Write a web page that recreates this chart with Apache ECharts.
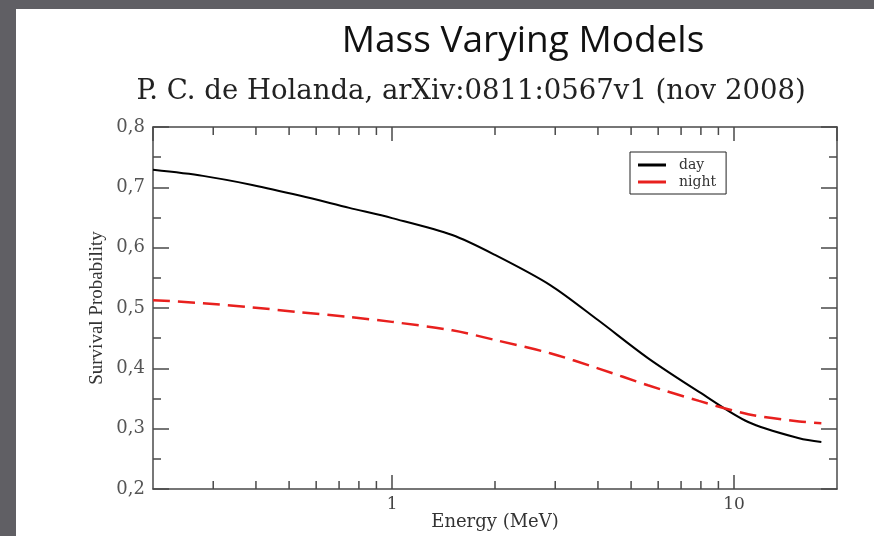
<!DOCTYPE html>
<html>
<head>
<meta charset="utf-8">
<script src="https://cdn.jsdelivr.net/npm/echarts@6/dist/echarts.min.js"></script>
<style>
  html, body { margin: 0; padding: 0; background: #605f64; }
  #sheet { position: absolute; left: 16px; top: 9px; width: 858px; height: 527px; background: #ffffff; }
  #chart { position: absolute; left: 0; top: 0; width: 874px; height: 536px; }
</style>
</head>
<body>
<div id="sheet"></div>
<div id="chart"></div>
<script>
// Energy grid (MeV) and survival probabilities
const energy = [0.2, 0.28, 0.39, 0.54, 0.75, 1.0, 1.5, 2.0, 2.9, 4.0, 5.6, 7.9, 11, 15.5, 18];
const dayP   = [0.729, 0.719, 0.704, 0.686, 0.666, 0.649, 0.621, 0.588, 0.538, 0.480, 0.417, 0.361, 0.311, 0.284, 0.278];
const nightP = [0.513, 0.508, 0.501, 0.493, 0.485, 0.477, 0.463, 0.447, 0.425, 0.400, 0.372, 0.346, 0.324, 0.312, 0.309];
// minor ticks on the log energy axis
const minorTicks = [0.3, 0.4, 0.5, 0.6, 0.7, 0.8, 0.9, 2, 3, 4, 5, 6, 7, 8, 9];
const yTickLabels = ['0,2', '0,3', '0,4', '0,5', '0,6', '0,7', '0,8'];

const times = '"Liberation Serif", serif';
const wideSerif = '"DejaVu Serif", "Liberation Serif", serif';
const axisCol = '#4a4a4a';

const chart = echarts.init(document.getElementById('chart'));
chart.setOption({
  backgroundColor: 'transparent',
  animation: false,
  title: [
    { text: 'Mass Varying Models', left: 518, top: 18, textAlign: 'center',
      textStyle: { fontFamily: '"Open Sans", Lato, sans-serif', fontSize: 37, fontWeight: 'normal', color: '#111' } },
    { text: 'P. C. de Holanda, arXiv:0811:0567v1 (nov 2008)', left: 466, top: 73, textAlign: 'center',
      textStyle: { fontFamily: wideSerif, fontSize: 27.5, fontWeight: 'normal', color: '#222' } }
  ],
  legend: {
    orient: 'vertical', left: 630, top: 152,
    borderColor: '#222', borderWidth: 1, padding: [6, 10, 5, 8],
    icon: 'rect', itemWidth: 28, itemHeight: 3, itemGap: 3,
    textStyle: { fontFamily: wideSerif, fontSize: 14, color: '#333', padding: [0, 0, 0, 8] },
    data: ['day', 'night']
  },
  grid: { left: 153, top: 127, right: 37, bottom: 47, outerBoundsMode: 'none' },
  xAxis: [
    { type: 'log', logBase: 10, min: 0.2, max: 20, position: 'bottom',
      name: 'Energy (MeV)', nameLocation: 'middle', nameGap: 24, nameMoveOverlap: false,
      nameTextStyle: { fontFamily: wideSerif, fontSize: 18, color: '#333' },
      axisLine: { lineStyle: { color: axisCol, width: 1.5 } },
      axisTick: { inside: true, length: 14, lineStyle: { color: axisCol, width: 1.5 } },
      axisLabel: { fontFamily: wideSerif, fontSize: 17, color: '#444', margin: 7,
        showMinLabel: false, showMaxLabel: false,
        formatter: v => (Math.abs(v - 1) < 1e-9 ? '1' : Math.abs(v - 10) < 1e-9 ? '10' : '') },
      splitLine: { show: false } },
    { type: 'log', logBase: 10, min: 0.2, max: 20, position: 'top',
      axisLine: { lineStyle: { color: axisCol, width: 1.5 } },
      axisTick: { inside: true, length: 14, lineStyle: { color: axisCol, width: 1.5 } },
      axisLabel: { show: false }, splitLine: { show: false } }
  ],
  yAxis: [
    { type: 'value', min: 0.2, max: 0.8, interval: 0.1,
      name: 'Survival Probability', nameLocation: 'middle', nameGap: 46, nameMoveOverlap: false,
      nameTextStyle: { fontFamily: times, fontSize: 19, color: '#333' },
      axisLine: { show: true, lineStyle: { color: axisCol, width: 1.5 } },
      axisTick: { inside: true, length: 16, lineStyle: { color: axisCol, width: 1.5 } },
      minorTick: { show: true, splitNumber: 2, length: 8, lineStyle: { color: axisCol, width: 1.5 } },
      axisLabel: { fontFamily: wideSerif, fontSize: 18, color: '#555', margin: 8,
        formatter: v => yTickLabels[Math.round((v - 0.2) * 10)] },
      splitLine: { show: false } },
    { type: 'value', min: 0.2, max: 0.8, interval: 0.1, position: 'right',
      axisLine: { show: true, lineStyle: { color: axisCol, width: 1.5 } },
      axisTick: { inside: true, length: 16, lineStyle: { color: axisCol, width: 1.5 } },
      minorTick: { show: true, splitNumber: 2, length: 8, lineStyle: { color: axisCol, width: 1.5 } },
      axisLabel: { show: false }, splitLine: { show: false } }
  ],
  series: [
    { name: 'day', type: 'line', symbol: 'none', smooth: 0.3,
      data: energy.map((e, i) => [e, dayP[i]]),
      lineStyle: { color: '#000', width: 2 }, itemStyle: { color: '#000' } },
    { name: 'night', type: 'line', symbol: 'none', smooth: 0.3,
      data: energy.map((e, i) => [e, nightP[i]]),
      lineStyle: { color: '#e8201e', width: 2.5, type: [17, 8] }, itemStyle: { color: '#e8201e' } },
    { name: 'minor', type: 'custom', silent: true, legendHoverLink: false,
      data: minorTicks.map(v => [v]),
      renderItem: (params, api) => {
        const b = api.coord([api.value(0), 0.2]);
        const t = api.coord([api.value(0), 0.8]);
        const st = { stroke: axisCol, lineWidth: 1.5 };
        return { type: 'group', children: [
          { type: 'line', shape: { x1: b[0], y1: b[1], x2: b[0], y2: b[1] - 8 }, style: st },
          { type: 'line', shape: { x1: t[0], y1: t[1], x2: t[0], y2: t[1] + 8 }, style: st }
        ] };
      } }
  ]
});
</script>
</body>
</html>
